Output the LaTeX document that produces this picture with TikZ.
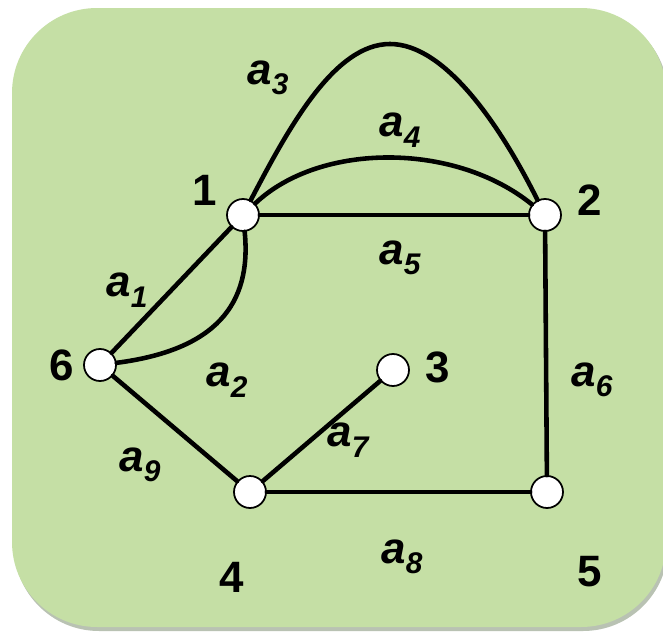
\documentclass[tikz,border=0pt]{standalone}
\usepackage{fontspec}
\setmainfont{Liberation Sans}
\definecolor{boxgreen}{HTML}{C5DFA5}
\definecolor{boxshade}{HTML}{8A9A80}
\newcommand\arclabel[1]{\textit{a\raisebox{-0.45ex}{\fontsize{17}{18}\selectfont#1}}}
\begin{document}
\begin{tikzpicture}[x=0.02cm, y=-0.02cm, line join=round, line cap=round,
	font=\bfseries\fontsize{25}{27}\selectfont,
	vertex/.style={circle, draw, fill=white, line width=1pt, minimum size=0.64cm, inner sep=0pt},
	edge/.style={line width=2.6pt}]
	\useasboundingbox (0,0) rectangle (663,639);
	% background card
	\fill[boxshade!60, rounded corners=1.7cm] (14,11) rectangle (668,631);
	\fill[boxgreen, rounded corners=1.7cm] (12,8) rectangle (666,627);
	% vertices
	\foreach \n/\x/\y in {1/243/215, 2/545/215, 3/393/370, 4/250/492, 5/547/492, 6/100/365}
		\node[vertex] (v\n) at (\x,\y) {};
	\coordinate (top) at (390,44);
	% edges
	\draw[edge] (v1) .. controls (290,125) and (335,44) .. (top)
		.. controls (445,44) and (500,125) .. (v2);
	\draw[edge] (v1) .. controls (320,142) and (455,142) .. (v2);
	\draw[edge] (v1) -- (v2);
	\draw[edge] (v1) -- (v6);
	\draw[edge] (v1) .. controls (252,305) and (215,350) .. (v6);
	\draw[edge] (v2) -- (v5);
	\draw[edge] (v4) -- (v3);
	\draw[edge] (v4) -- (v5);
	\draw[edge] (v6) -- (v4);
	% vertex labels
	\foreach \n/\x/\y in {1/205/190, 2/590/200, 3/438/367, 4/232/577, 5/590/572, 6/62/365}
		\node (l\n) at (\x,\y) {\n};
	% edge labels
	\foreach \k/\x/\y in {1/127/290, 2/227/380, 3/268/78, 4/400/130, 5/400/258, 6/592/380, 7/348/440, 8/402/557, 9/140/465}
		\node (a\k) at (\x,\y) {\arclabel{\k}};
\end{tikzpicture}
\end{document}
